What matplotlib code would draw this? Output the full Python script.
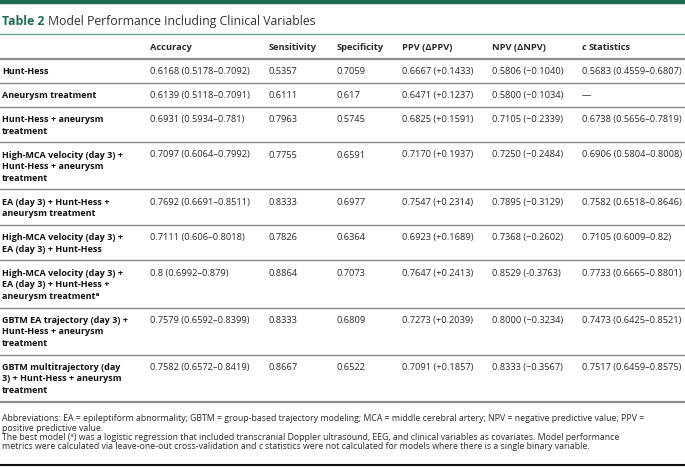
import matplotlib
matplotlib.use("Agg")
import matplotlib.pyplot as plt

plt.rcParams['font.family'] = ['Open Sans', 'DejaVu Sans']

# Table content
title_num = "Table 2"
title_text = "Model Performance Including Clinical Variables"
headers = ["Accuracy", "Sensitivity", "Specificity", "PPV (ΔPPV)", "NPV (ΔNPV)"]

models = [
    "Hunt-Hess",
    "Aneurysm treatment",
    "Hunt-Hess + aneurysm\ntreatment",
    "High-MCA velocity (day 3) +\nHunt-Hess + aneurysm\ntreatment",
    "EA (day 3) + Hunt-Hess +\naneurysm treatment",
    "High-MCA velocity (day 3) +\nEA (day 3) + Hunt-Hess",
    "High-MCA velocity (day 3) +\nEA (day 3) + Hunt-Hess +\naneurysm treatmentᵃ",
    "GBTM EA trajectory (day 3) +\nHunt-Hess + aneurysm\ntreatment",
    "GBTM multitrajectory (day\n3) + Hunt-Hess + aneurysm\ntreatment",
]
accuracy = ["0.6168 (0.5178–0.7092)", "0.6139 (0.5118–0.7091)", "0.6931 (0.5934–0.781)",
            "0.7097 (0.6064–0.7992)", "0.7692 (0.6691–0.8511)", "0.7111 (0.606–0.8018)",
            "0.8 (0.6992–0.879)", "0.7579 (0.6592–0.8399)", "0.7582 (0.6572–0.8419)"]
sensitivity = ["0.5357", "0.6111", "0.7963", "0.7755", "0.8333", "0.7826", "0.8864", "0.8333", "0.8667"]
specificity = ["0.7059", "0.617", "0.5745", "0.6591", "0.6977", "0.6364", "0.7073", "0.6809", "0.6522"]
ppv = ["0.6667 (+0.1433)", "0.6471 (+0.1237)", "0.6825 (+0.1591)", "0.7170 (+0.1937)",
       "0.7547 (+0.2314)", "0.6923 (+0.1689)", "0.7647 (+0.2413)", "0.7273 (+0.2039)",
       "0.7091 (+0.1857)"]
npv = ["0.5806 (−0.1040)", "0.5800 (−0.1034)", "0.7105 (−0.2339)", "0.7250 (−0.2484)",
       "0.7895 (−0.3129)", "0.7368 (−0.2602)", "0.8529 (-0.3763)", "0.8000 (−0.3234)",
       "0.8333 (−0.3567)"]
c_stat = ["0.5683 (0.4559–0.6807)", "—", "0.6738 (0.5656–0.7819)", "0.6906 (0.5804–0.8008)",
          "0.7582 (0.6518–0.8646)", "0.7105 (0.6009–0.82)", "0.7733 (0.6665–0.8801)",
          "0.7473 (0.6425–0.8521)", "0.7517 (0.6459–0.8575)"]

foot_abbrev = ["Abbreviations: EA = epileptiform abnormality; GBTM = group-based trajectory modeling; "
               "MCA = middle cerebral artery; NPV = negative predictive value; PPV =",
               "positive predictive value."]
foot_best = ("The best model (ᵃ) was a logistic regression that included transcranial Doppler ultrasound, "
             "EEG, and clinical variables as covariates. Model performance")
foot_last = ["metrics were calculated via leave-one-out cross-validation and ", "c",
             " statistics were not calculated for models where there is a single binary variable."]

GREEN = "#1e6c4f"
TXT = "#2a2a2a"
FS = 6.7
LAB_FS = 6.5
FOOT_FS = 6.3

fig = plt.figure(figsize=(6.85, 4.67), dpi=100)
ax = fig.add_axes([0, 0, 1, 1])
ax.set_xlim(0, 685)
ax.set_ylim(467, 0)
ax.axis('off')
renderer = fig.canvas.get_renderer()


def space_w(style, **kw):
    a = ax.text(0, 0, "a a", fontstyle=style, **kw)
    b = ax.text(0, 0, "aa", fontstyle=style, **kw)
    w = a.get_window_extent(renderer).width - b.get_window_extent(renderer).width
    a.remove(); b.remove()
    return w


def runs(x, y, parts, **kw):
    # draw text pieces one after another on the same baseline
    for s, style in parts:
        x += space_w(style, **kw) * (len(s) - len(s.lstrip(' ')))
        t = ax.text(x, y, s.strip(' '), va='baseline', ha='left', fontstyle=style, **kw)
        x += t.get_window_extent(renderer).width
        x += space_w(style, **kw) * (len(s) - len(s.rstrip(' ')))


# top bar and title
ax.axhline(1.5, color=GREEN, lw=3.2)
t = ax.text(2, 25, title_num, color=GREEN, fontsize=8.8, fontweight='bold', va='baseline')
ax.text(2 + t.get_window_extent(renderer).width + 4, 25, title_text, color="#333333",
        fontsize=8.8, va='baseline')
ax.axhline(33.5, color="#6aa88e", lw=1.0)

# header
col_x = [150, 269, 337, 402, 492, 582]
for cx, h in zip(col_x, headers):
    ax.text(cx, 49.5, h, fontsize=FS, fontweight='bold', color=TXT, va='baseline')
runs(col_x[5], 49.5, [("c", 'italic'), (" Statistics", 'normal')],
     fontsize=FS, fontweight='bold', color=TXT)
ax.axhline(59, color="#8a8a8a", lw=1.6)

# body rows
top = 59
line_h = 11.6
for i, label in enumerate(models):
    lines = label.split("\n")
    base = top + 15.2
    for k, ln in enumerate(lines):
        ax.text(2, base + k * line_h, ln, fontsize=LAB_FS, fontweight='bold', color="#111111",
                va='baseline')
    vals = [accuracy[i], sensitivity[i], specificity[i], ppv[i], npv[i], c_stat[i]]
    for cx, v in zip(col_x, vals):
        ax.text(cx, base, v, fontsize=FS, color=TXT, va='baseline')
    top += 12.3 + line_h * len(lines)
    last = i == len(models) - 1
    ax.axhline(top, color="#8a8a8a", lw=1.6 if last else 1.0)

# footnotes
ax.text(2, 421.3, foot_abbrev[0], fontsize=FOOT_FS, color=TXT, va='baseline')
ax.text(2, 430.6, foot_abbrev[1], fontsize=FOOT_FS, color=TXT, va='baseline')
ax.text(2, 439.6, foot_best, fontsize=FOOT_FS, color=TXT, va='baseline')
runs(2, 448.6, [(foot_last[0], 'normal'), (foot_last[1], 'italic'), (foot_last[2], 'normal')],
     fontsize=FOOT_FS, color=TXT)
ax.axhline(464.5, color="#111111", lw=1.5)

fig.savefig("out.png", dpi=100)
